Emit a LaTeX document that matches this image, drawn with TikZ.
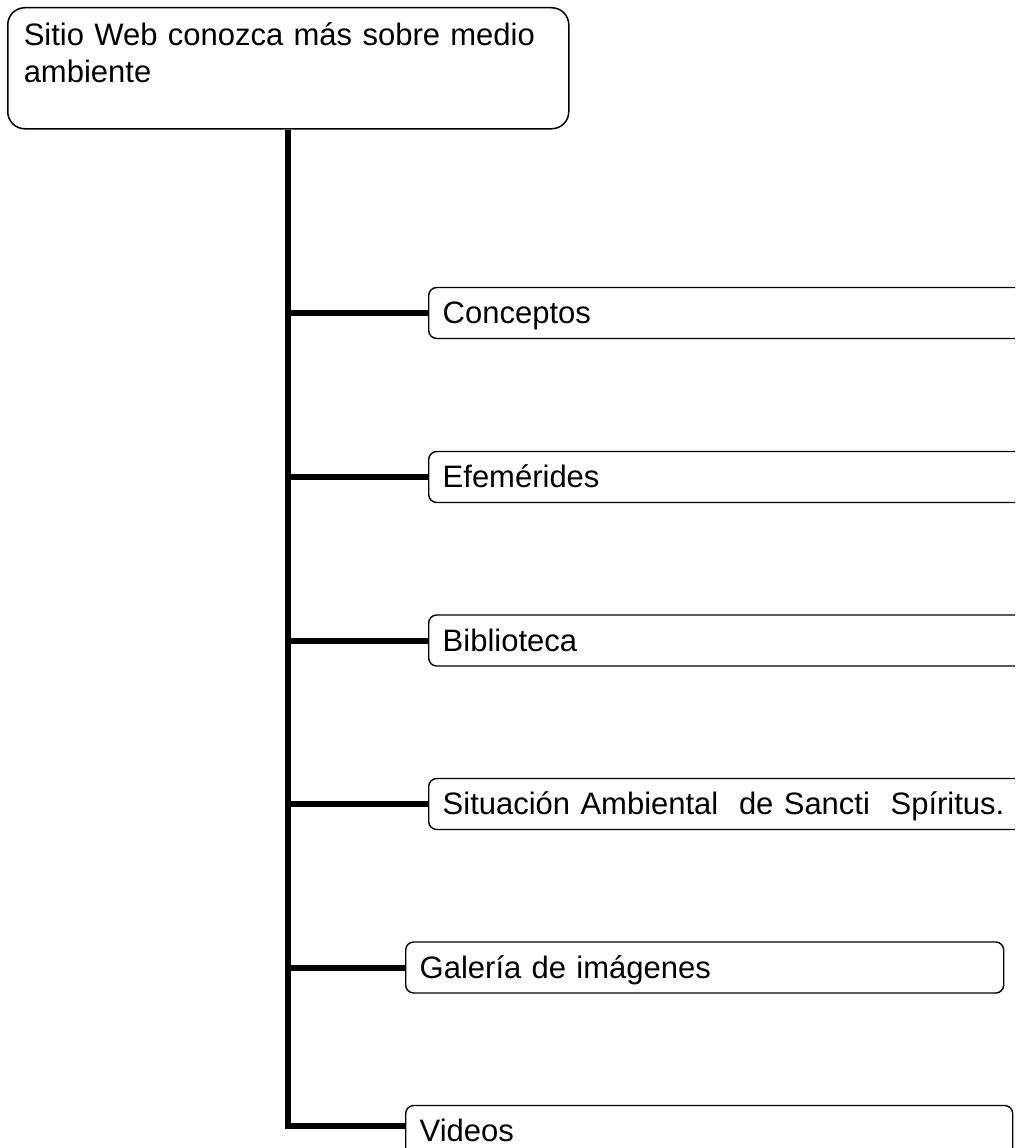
\documentclass[tikz,border=0pt]{standalone}
\usepackage{fontspec}
\setmainfont{Liberation Sans}
\begin{document}
\begin{tikzpicture}[x=1pt,y=-1pt,
  txt/.style={font=\fontsize{31pt}{37pt}\selectfont},
  rootbox/.style={txt, draw, line width=1.5pt, rounded corners=17pt,
    anchor=north west, inner xsep=16pt, inner ysep=0pt,
    text width=529pt, align=left, text height=38pt, text depth=83pt},
  childbox/.style={txt, draw, line width=1.4pt, rounded corners=8pt,
    anchor=west, inner xsep=14pt, inner ysep=0pt, minimum height=51pt,
    text height=21pt, text depth=0pt, align=left, text width=#1},
  conn/.style={line width=6pt}
]
\useasboundingbox (0,0) rectangle (1015,1148);
\clip (0,0) rectangle (1015,1148);

\node[rootbox] (root) at (7,7) {Sitio Web conozca más sobre medio\\ambiente};

\node[childbox=592pt] (conceptos)  at (428,313)   {Conceptos};
\node[childbox=592pt] (efemerides) at (428,477)   {Efemérides};
\node[childbox=592pt] (biblioteca) at (428,640.5) {Biblioteca};
\node[childbox=592pt] (situacion)  at (428,804)   {Situación Ambiental\ \ de Sancti\ \ Spíritus.};
\node[childbox=570pt] (galeria)    at (405,967.5) {Galería de imágenes};
\node[childbox=579pt] (videos)     at (405,1131)  {Videos};

\draw[conn] (root.south) |- ([yshift=5pt]videos.west);
\foreach \n in {conceptos,efemerides,biblioteca,situacion,galeria}
  \draw[conn] (root.south |- \n.west) -- (\n.west);
\end{tikzpicture}
\end{document}
